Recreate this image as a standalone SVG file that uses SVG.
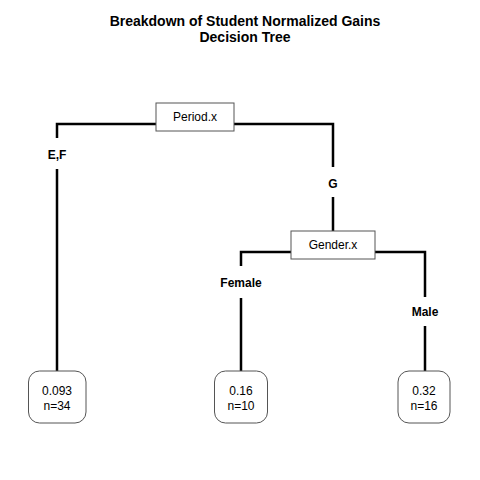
<svg xmlns="http://www.w3.org/2000/svg" width="480" height="480" viewBox="0 0 480 480">
<style>
text{font-family:"Liberation Sans",Arial,sans-serif;fill:#000}
.title{font-size:14px;font-weight:bold;text-anchor:middle}
.split{font-size:12px;text-anchor:middle}
.lbl{font-size:12px;font-weight:bold;text-anchor:middle}
.leaf{font-size:12px;text-anchor:middle}
.box{fill:#fff;stroke:#555;stroke-width:1}
.edge{fill:none;stroke:#000;stroke-width:2.5}
</style>
<rect width="480" height="480" fill="#fff"/>
<text class="title" x="245" y="26">Breakdown of Student Normalized Gains</text>
<text class="title" x="245" y="42">Decision Tree</text>
<g id="connectors">
<path class="edge" d="M156,124 H57 V138 M57,169 V371"/>
<path class="edge" d="M234,124 H333 V167 M333,197 V231"/>
<path class="edge" d="M291,252 H241 V266 M241,298 V371"/>
<path class="edge" d="M375,252 H425 V297 M425,326 V371"/>
<text class="lbl" x="57" y="159">E,F</text>
<text class="lbl" x="333" y="188">G</text>
<text class="lbl" x="241" y="287">Female</text>
<text class="lbl" x="425" y="316">Male</text>
</g>
<g id="node-period">
<rect class="box" x="156" y="103" width="78" height="28"/>
<text class="split" x="195" y="121">Period.x</text>
</g>
<g id="node-gender">
<rect class="box" x="291" y="231" width="84" height="28"/>
<text class="split" x="333" y="249">Gender.x</text>
</g>
<g id="leaf-1">
<rect class="box" x="28.5" y="371" width="57.5" height="52" rx="11"/>
<text class="leaf" x="57" y="395">0.093</text>
<text class="leaf" x="57" y="410">n=34</text>
</g>
<g id="leaf-2">
<rect class="box" x="214.5" y="371" width="53" height="52" rx="11"/>
<text class="leaf" x="241" y="395">0.16</text>
<text class="leaf" x="241" y="410">n=10</text>
</g>
<g id="leaf-3">
<rect class="box" x="398" y="371" width="52" height="52" rx="11"/>
<text class="leaf" x="424" y="395">0.32</text>
<text class="leaf" x="424" y="410">n=16</text>
</g>
</svg>
